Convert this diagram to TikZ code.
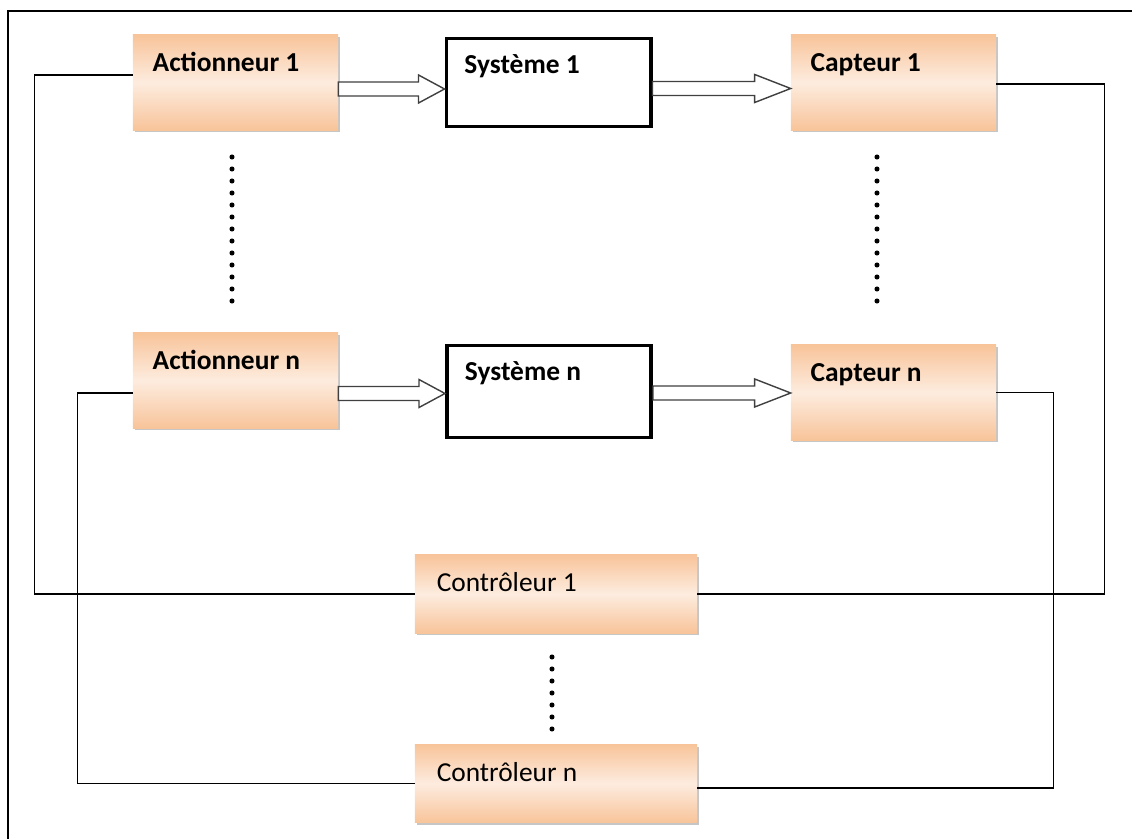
\documentclass[tikz,border=0pt]{standalone}
\usepackage{fontspec}
\setmainfont{Carlito}
\usetikzlibrary{calc,shadows}
\definecolor{peach}{RGB}{248,196,154}
\definecolor{peachlight}{RGB}{253,236,223}

\tikzset{
  bloc/.style={rectangle,minimum width=5.125cm,minimum height=2.375cm,
    top color=peach,bottom color=peach,middle color=peachlight,
    drop shadow={shadow xshift=1.5pt,shadow yshift=-1.5pt,opacity=.45}},
  ctlbloc/.style={bloc,minimum width=7.05cm,minimum height=1.95cm},
  sysbloc/.style={rectangle,draw,line width=2.8pt,fill=white,
    minimum width=5.1cm,minimum height=2.2cm},
  titre/.style={label={[anchor=base west,inner sep=0pt,xshift=14pt,yshift=-26pt,
    font=\fontsize{19.5}{22}\selectfont\bfseries]north west:#1}},
  titrefin/.style={label={[anchor=base west,inner sep=0pt,xshift=15.5pt,yshift=-26.5pt,
    font=\fontsize{19.5}{22}\selectfont]north west:#1}},
  lien/.style={line width=1pt},
  fleche/.style={draw=black!75,line width=1pt,fill=white}
}

% double arrow from #1 to #2 at height #3, head length #4
\newcommand{\fleche}[4]{%
  \path (#1.east |- 0,#3) coordinate (fa) (#2.west |- 0,#3) coordinate (fb);
  \draw[fleche] ($(fa)+(0,-7)$) -- ($(fb)+(-#4,-7)$) -- ($(fb)+(-#4,-14)$) -- (fb)
    -- ($(fb)+(-#4,14)$) -- ($(fb)+(-#4,7)$) -- ($(fa)+(0,7)$) -- cycle;}

\begin{document}
\begin{tikzpicture}[x=0.025cm,y=-0.025cm]
\useasboundingbox (0,0) rectangle (1132,839);
% frame
\draw[lien] (8,839) -- (8,11) -- (1132,11);

% first row
\node[bloc,titre={Actionneur 1}] (act1) at (235.5,82.5) {};
\node[sysbloc,titre={Système 1}] (sys1) at (548.5,82.5) {};
\node[bloc,titre={Capteur 1}] (cap1) at (893.5,82.5) {};

% last row
\node[bloc,titre={Actionneur n}] (actn) at (235.5,380.5) {};
\node[sysbloc,titre={Système n},minimum height=2.3cm] (sysn) at (549,391.5) {};
\node[bloc,titre={Capteur n}] (capn) at (893.5,392.5) {};

% controllers
\node[ctlbloc,titrefin={Contrôleur 1}] (ctl1) at (556,594) {};
\node[ctlbloc,titrefin={Contrôleur n}] (ctln) at (556,783.5) {};

% arrows
\fleche{act1}{sys1}{89}{26}
\fleche{sys1}{cap1}{88.5}{36}
\fleche{actn}{sysn}{393.5}{26}
\fleche{sysn}{capn}{393}{36}

% loops
\draw[lien] ([yshift=5.3pt]act1.west) -- ++(-98,0) |- (ctl1.west);
\draw[lien] ([yshift=-1pt]cap1.east) -- ++(108,0) |- (ctl1.east);
\draw[lien] ([yshift=-8.9pt]actn.west) -- ++(-55,0) |- (ctln.west);
\draw[lien] (capn.east) -- ++(57,0) |- ([yshift=-3.2pt]ctln.east);

% dots
\foreach \k in {0,...,12} {
  \fill (232,{157+12*\k}) circle (1.8pt);
  \fill (877,{157+12*\k}) circle (1.8pt);
}
\foreach \k in {0,...,6}
  \fill (552,{657+12*\k}) circle (1.8pt);
\end{tikzpicture}
\end{document}
